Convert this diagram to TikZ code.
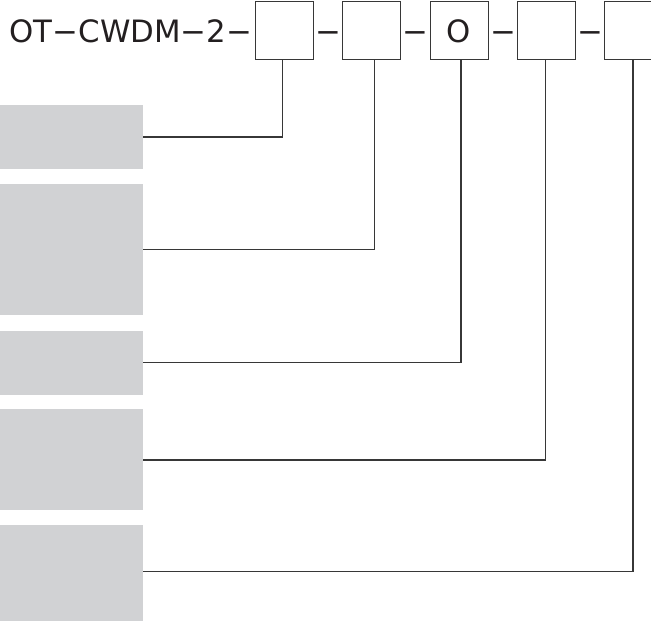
\documentclass[tikz,border=0pt]{standalone}
\usepackage{fontspec}
\setmainfont{DejaVu Sans}
\usepackage{tikz}
\usetikzlibrary{positioning}
\definecolor{grisclaro}{RGB}{209,210,212}
\definecolor{grisoscuro}{RGB}{55,55,55}
\definecolor{textonegro}{RGB}{35,31,32}
\tikzset{conector/.style={line width=1.5pt, draw=grisoscuro}}
\tikzset{casilla/.style={draw=grisoscuro, line width=0.9pt, minimum width=58pt, minimum height=58pt}}
\tikzset{bloque/.style={fill=grisclaro, minimum width=143pt, anchor=north west}}

\begin{document}
\begin{tikzpicture}[x=1pt, y=-1pt, font=\fontsize{30.8}{37}\selectfont,
    every node/.style={inner sep=0pt, text height=25.9pt, text depth=0pt, text=textonegro}]
            \clip (0,0) rectangle (651,621);
            % casillas del codigo
            \node[casilla] (c1) at (284.2,30) {};
            \node[right= 1.4pt of c1] (d1) {−};
            \node[casilla, right= 0.9pt of d1] (c2) {};
            \node[right= 1.4pt of c2] (d2) {−};
            \node[casilla, right= 0.9pt of d2] (c3) {O};
            \node[right= 1.4pt of c3] (d3) {−};
            \node[casilla, right= 0.9pt of d3] (c4) {};
            \node[right= 1.4pt of c4] (d4) {−};
            \node[casilla, right= 0.9pt of d4] (c5) {};
            \node[left= 2.5pt of c1] (codigo) {OT−CWDM−2−};

            % bloques grises
            \node[bloque, minimum height=64pt] (g1) at (0,105) {};
            \node[bloque, minimum height=131pt, below= 14.3pt of g1] (g2) {};
            \node[bloque, minimum height=64pt,  below= 15.3pt of g2] (g3) {};
            \node[bloque, minimum height=101pt, below= 14.3pt of g3] (g4) {};
            \node[bloque, minimum height=100pt, below= 14.3pt of g4] (g5) {};

            \draw[conector] (g1.east) -| ([xshift=-1.5pt]c1.south);
            \draw[conector] (g2.east) -| ([xshift=3pt]c2.south);
            \draw[conector] (g3.east) -| ([xshift=2pt]c3.south);
            \draw[conector] (g4.east) -| ([xshift=-0.8pt]c4.south);
            \draw[conector] ([yshift=3.5pt]g5.east) -| ([xshift=-1pt]c5.south);
        \end{tikzpicture}
\end{document}
